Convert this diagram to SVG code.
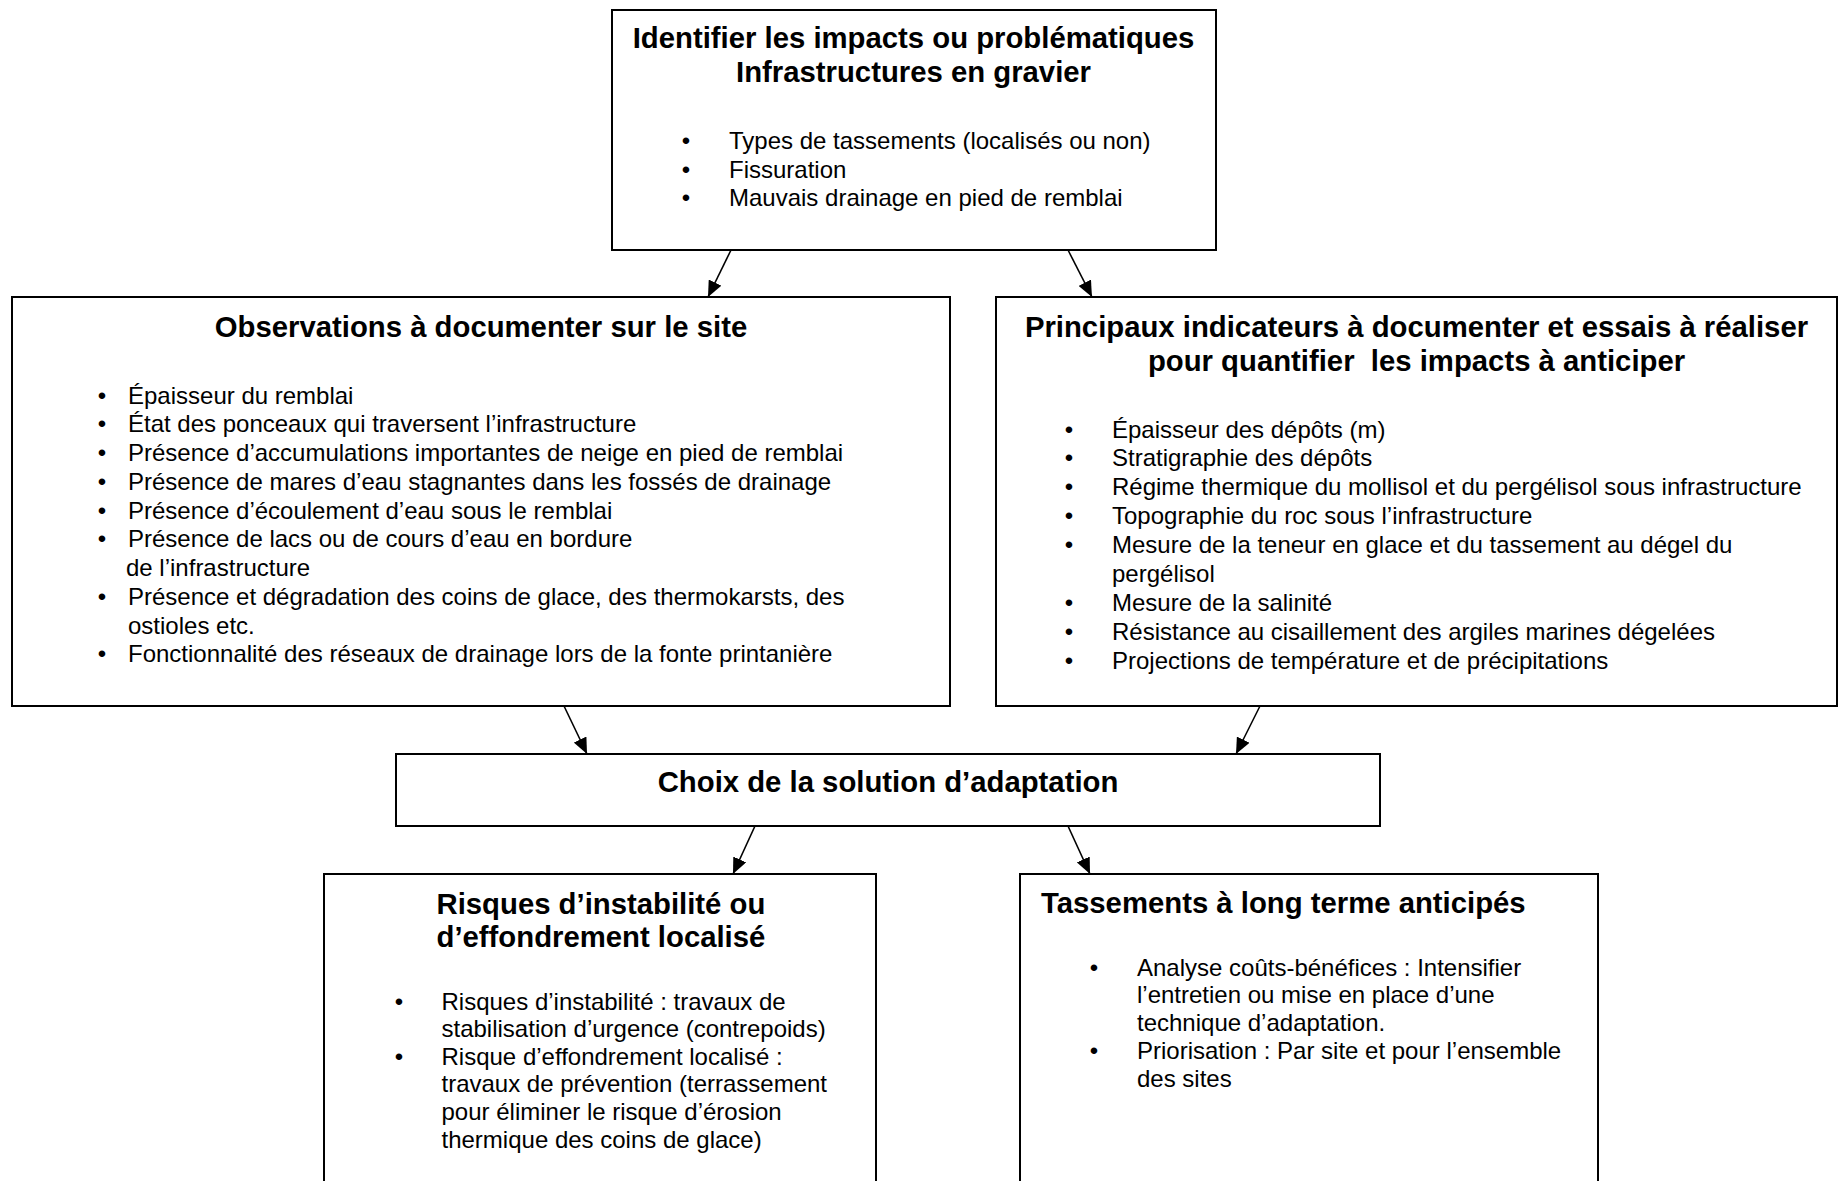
<svg xmlns="http://www.w3.org/2000/svg" width="1839" height="1181" viewBox="0 0 1839 1181">
<defs>
<style>
.box{fill:#fff;stroke:#000;stroke-width:2}
.t{font-family:"Liberation Sans",Arial,sans-serif;font-weight:bold;font-size:29.3px;fill:#000}
.b{font-family:"Liberation Sans",Arial,sans-serif;font-size:24px;fill:#000}
.c{text-anchor:middle}
.con{stroke:#000;stroke-width:1.6;fill:none;marker-end:url(#arr)}
</style>
<marker id="arr" viewBox="0 0 16 14" refX="16" refY="7" markerWidth="16" markerHeight="14" markerUnits="userSpaceOnUse" orient="auto"><path d="M0,0 L16,7 L0,14 z" fill="#000"/></marker>
</defs>
<rect width="1839" height="1181" fill="#fff"/>
<g id="connectors">
<line class="con" x1="731" y1="250" x2="708" y2="297"/>
<line class="con" x1="1068" y1="250" x2="1092" y2="297"/>
<line class="con" x1="564" y1="706" x2="587" y2="754"/>
<line class="con" x1="1260" y1="706" x2="1236" y2="754"/>
<line class="con" x1="755" y1="826" x2="733" y2="874"/>
<line class="con" x1="1068" y1="826" x2="1090" y2="874"/>
</g>
<g id="node-impacts">
<rect class="box" x="612" y="10" width="604" height="240"/>
<text class="t c" x="913.5" y="48">Identifier les impacts ou problématiques</text>
<text class="t c" x="913.5" y="82">Infrastructures en gravier</text>
<g class="b">
<text class="c" x="686" y="149">•</text><text x="729" y="149">Types de tassements (localisés ou non)</text>
<text class="c" x="686" y="177.5">•</text><text x="729" y="177.5">Fissuration</text>
<text class="c" x="686" y="206">•</text><text x="729" y="206">Mauvais drainage en pied de remblai</text>
</g>
</g>
<g id="node-observations">
<rect class="box" x="12" y="297" width="938" height="409"/>
<text class="t c" x="481" y="336.5">Observations à documenter sur le site</text>
<g class="b">
<text class="c" x="102" y="403.5">•</text><text x="128" y="403.5">Épaisseur du remblai</text>
<text class="c" x="102" y="432.3">•</text><text x="128" y="432.3">État des ponceaux qui traversent l’infrastructure</text>
<text class="c" x="102" y="461">•</text><text x="128" y="461">Présence d’accumulations importantes de neige en pied de remblai</text>
<text class="c" x="102" y="489.8">•</text><text x="128" y="489.8">Présence de mares d’eau stagnantes dans les fossés de drainage</text>
<text class="c" x="102" y="518.5">•</text><text x="128" y="518.5">Présence d’écoulement d’eau sous le remblai</text>
<text class="c" x="102" y="547.3">•</text><text x="128" y="547.3">Présence de lacs ou de cours d’eau en bordure</text>
<text x="126" y="576">de l’infrastructure</text>
<text class="c" x="102" y="604.8">•</text><text x="128" y="604.8">Présence et dégradation des coins de glace, des thermokarsts, des</text>
<text x="128" y="633.5">ostioles etc.</text>
<text class="c" x="102" y="662.3">•</text><text x="128" y="662.3">Fonctionnalité des réseaux de drainage lors de la fonte printanière</text>
</g>
</g>
<g id="node-indicateurs">
<rect class="box" x="996" y="297" width="841" height="409"/>
<text class="t c" x="1416.5" y="336.5">Principaux indicateurs à documenter et essais à réaliser</text>
<text class="t c" x="1416.5" y="370.5" style="white-space:pre">pour quantifier  les impacts à anticiper</text>
<g class="b">
<text class="c" x="1069" y="437.5">•</text><text x="1112" y="437.5">Épaisseur des dépôts (m)</text>
<text class="c" x="1069" y="466.4">•</text><text x="1112" y="466.4">Stratigraphie des dépôts</text>
<text class="c" x="1069" y="495.3">•</text><text x="1112" y="495.3">Régime thermique du mollisol et du pergélisol sous infrastructure</text>
<text class="c" x="1069" y="524.2">•</text><text x="1112" y="524.2">Topographie du roc sous l’infrastructure</text>
<text class="c" x="1069" y="553.1">•</text><text x="1112" y="553.1">Mesure de la teneur en glace et du tassement au dégel du</text>
<text x="1112" y="582">pergélisol</text>
<text class="c" x="1069" y="610.9">•</text><text x="1112" y="610.9">Mesure de la salinité</text>
<text class="c" x="1069" y="639.8">•</text><text x="1112" y="639.8">Résistance au cisaillement des argiles marines dégelées</text>
<text class="c" x="1069" y="668.7">•</text><text x="1112" y="668.7">Projections de température et de précipitations</text>
</g>
</g>
<g id="node-choix">
<rect class="box" x="396" y="754" width="984" height="72"/>
<text class="t c" x="888" y="791.5">Choix de la solution d’adaptation</text>
</g>
<g id="node-risques">
<rect class="box" x="324" y="874" width="552" height="330"/>
<text class="t" x="436.5" y="913.5">Risques d’instabilité ou</text>
<text class="t" x="436.5" y="946.5">d’effondrement localisé</text>
<g class="b">
<text class="c" x="399" y="1009.5">•</text><text x="441.5" y="1009.5">Risques d’instabilité : travaux de</text>
<text x="441.5" y="1037.1">stabilisation d’urgence (contrepoids)</text>
<text class="c" x="399" y="1064.7">•</text><text x="441.5" y="1064.7">Risque d’effondrement localisé :</text>
<text x="441.5" y="1092.3">travaux de prévention (terrassement</text>
<text x="441.5" y="1119.9">pour éliminer le risque d’érosion</text>
<text x="441.5" y="1147.5">thermique des coins de glace)</text>
</g>
</g>
<g id="node-tassements">
<rect class="box" x="1020" y="874" width="578" height="330"/>
<text class="t" x="1041" y="913">Tassements à long terme anticipés</text>
<g class="b">
<text class="c" x="1094" y="975.5">•</text><text x="1137" y="975.5">Analyse coûts-bénéfices : Intensifier</text>
<text x="1137" y="1003.2">l’entretien ou mise en place d’une</text>
<text x="1137" y="1031">technique d’adaptation.</text>
<text class="c" x="1094" y="1058.7">•</text><text x="1137" y="1058.7">Priorisation : Par site et pour l’ensemble</text>
<text x="1137" y="1086.5">des sites</text>
</g>
</g>
</svg>
